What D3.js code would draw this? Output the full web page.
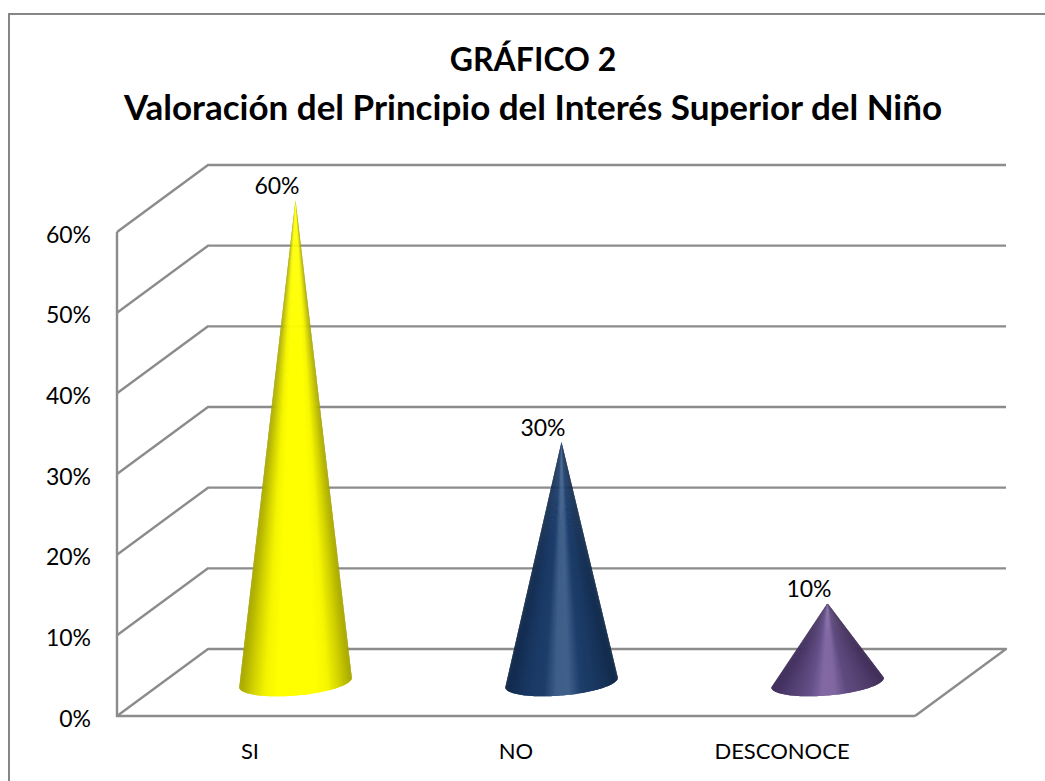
<!DOCTYPE html>
<html>
<head>
<meta charset="utf-8">
<script src="https://cdn.jsdelivr.net/npm/d3@7/dist/d3.min.js"></script>
<style>
  html, body { margin: 0; padding: 0; background: #fff; }
  svg { display: block; }
  text { font-family: Lato, "Open Sans", sans-serif; fill: #000; }
</style>
</head>
<body>
<script>
var categories = ['SI', 'NO', 'DESCONOCE'];
var values = [0.6, 0.3, 0.1];
var valueLabels = ['60%', '30%', '10%'];
var yTicks = [0, 0.1, 0.2, 0.3, 0.4, 0.5, 0.6];
var titleLines = ['GRÁFICO 2', 'Valoración del Principio del Interés Superior del Niño'];
// shading across each cone, left edge to right edge
var coneShades = [
  ['#a5a500', '#d0d000', '#f4f400', '#ffff00', '#ffff00', '#ffff00', '#ffff00', '#f6f600', '#d0d000', '#a5a500'],
  ['#11294a', '#16325a', '#1b3a66', '#1d3d6a', '#3f5f8a', '#40608b', '#1d3e6b', '#1a3963', '#163156', '#112a4a'],
  ['#3f2d5a', '#4d3a6c', '#594577', '#65508a', '#8269a3', '#8168a2', '#5f4a80', '#584474', '#4e3a69', '#3e2c57']
];

var width = 1045, height = 781;
var gridColor = '#8c8c8c';

// front plane of the 3d box and how far back the rear wall sits
var x0 = 117, x1 = 915, yBase = 716, yTop = 232;
var depthX = 91, depthY = -67;

var svg = d3.select('body').append('svg')
  .attr('width', width)
  .attr('height', height);

var x = d3.scaleBand().domain(categories).range([x0, x1]);
var y = d3.scaleLinear().domain([0, 0.6]).range([yBase, yTop]);

// chart frame, runs off the right and bottom of the picture
svg.append('path')
  .attr('d', 'M9,' + height + 'V14H' + width)
  .attr('fill', 'none')
  .attr('stroke', '#868686')
  .attr('stroke-width', 2);

var titleSizes = [32, 35];
svg.append('g').selectAll('text')
  .data(titleLines)
  .enter().append('text')
  .attr('x', 533)
  .attr('y', function(d, i) { return 71 + i * 49; })
  .attr('text-anchor', 'middle')
  .attr('font-size', function(d, i) { return titleSizes[i]; })
  .attr('font-weight', 700)
  .text(function(d) { return d; });

// walls and gridlines
var walls = svg.append('g')
  .attr('fill', 'none')
  .attr('stroke', gridColor);

walls.selectAll('path.grid')
  .data(yTicks)
  .enter().append('path')
  .attr('class', 'grid')
  .attr('stroke-width', 2.4)
  .attr('stroke-linejoin', 'round')
  .attr('d', function(d) {
    var line = d3.line();
    if (d === 0) {
      return line([[x0, y(0)], [x0 + depthX, y(0) + depthY], [x1 + depthX, y(0) + depthY], [x1, y(0)]]);
    }
    return line([[x0, y(d)], [x0 + depthX, y(d) + depthY], [x1 + depthX, y(d) + depthY]]);
  });

walls.append('path')
  .attr('stroke-width', 2.4)
  .attr('d', d3.line()([[x0, y(0.6)], [x0, y(0)], [x1, y(0)]]));

svg.append('g').selectAll('text')
  .data(yTicks)
  .enter().append('text')
  .attr('x', 91)
  .attr('y', function(d) { return y(d) + 10.5; })
  .attr('text-anchor', 'end')
  .attr('font-size', 23)
  .text(function(d) { return d3.format('.0%')(d); });

svg.append('g').selectAll('text')
  .data(categories)
  .enter().append('text')
  .attr('x', function(d) { return x(d) + x.bandwidth() / 2; })
  .attr('y', 759)
  .attr('text-anchor', 'middle')
  .attr('font-size', 22)
  .text(function(d) { return d; });

// cones: fan of thin wedges from the tip down to the tilted base ellipse
var rx = 56.5, ry = 13, tilt = -5 * Math.PI / 180;

categories.forEach(function(cat, i) {
  var cx = x(cat) + x.bandwidth() / 2 + depthX / 2;
  var cy = yBase + depthY / 2;
  var tipY = y(values[i]) + depthY / 2 + 1.5;
  var shade = d3.scaleLinear()
    .domain(d3.range(coneShades[i].length).map(function(k) { return k / (coneShades[i].length - 1); }))
    .range(coneShades[i]);

  var g = svg.append('g');
  var n = 90;
  var pts = d3.range(n + 1).map(function(k) {
    var a = Math.PI - Math.PI * k / n;
    var ex = rx * Math.cos(a), ey = ry * Math.sin(a);
    return [cx + ex * Math.cos(tilt) - ey * Math.sin(tilt), cy + ex * Math.sin(tilt) + ey * Math.cos(tilt)];
  });

  // each wedge runs on to the far end of the next one, so no white shows in the joins
  g.selectAll('path')
    .data(d3.range(n))
    .enter().append('path')
    .attr('d', function(k) {
      return d3.line()([[cx, tipY], pts[k], pts[k + 1], pts[Math.min(k + 2, n)]]) + 'Z';
    })
    .attr('fill', function(k) { return shade((pts[k][0] - pts[0][0]) / (pts[n][0] - pts[0][0])); });

  svg.append('text')
    .attr('x', cx - 18.5)
    .attr('y', tipY - 6)
    .attr('text-anchor', 'middle')
    .attr('font-size', 23)
    .text(valueLabels[i]);
});
</script>
</body>
</html>
